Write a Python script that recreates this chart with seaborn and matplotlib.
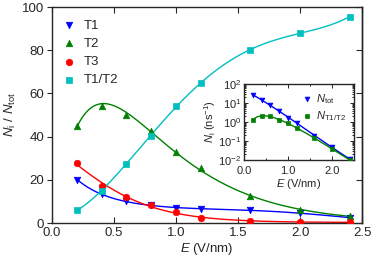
import numpy as np
import pandas as pd
import matplotlib
matplotlib.use("Agg")
import matplotlib.pyplot as plt
import seaborn as sns
from matplotlib.ticker import LogLocator, NullFormatter, MultipleLocator

# ---- data ----
E = [0.2, 0.4, 0.6, 0.8, 1.0, 1.2, 1.6, 2.0, 2.4]
T1 = [20.0, 13.5, 10.0, 8.2, 7.0, 6.5, 6.0, 4.5, 2.5]
T2 = [45.0, 54.0, 50.0, 42.5, 33.0, 25.5, 12.5, 6.0, 3.2]
T3 = [28.0, 17.0, 12.2, 8.3, 5.0, 2.3, 1.0, 0.5, 0.3]
T1T2 = [5.8, 15.0, 27.5, 40.5, 54.0, 65.0, 80.0, 88.0, 95.5]

N_tot = [26.0, 15.0, 8.1, 3.6, 1.7, 0.87, 0.19, 0.05, 0.011]
N_T1T2 = [1.25, 2.1, 1.95, 1.3, 0.87, 0.47, 0.14, 0.04, 0.01]

sns.set_style("ticks")
plt.rcParams['font.family'] = ['Liberation Sans', 'DejaVu Sans']
plt.rcParams['mathtext.fontset'] = 'custom'
plt.rcParams['mathtext.rm'] = 'Liberation Sans'
plt.rcParams['mathtext.it'] = 'Liberation Sans:italic'

fig = plt.figure(figsize=(3.74, 2.63), dpi=100)
ax = fig.add_axes([52/374, 1-223/263, (362-52)/374, (223-7)/263])


def fit_curve(x, y, kind):
    """Least-squares smooth curve through the measured points."""
    x = np.asarray(x, float); y = np.asarray(y, float)
    xs = np.linspace(x.min(), x.max(), 200)
    if kind == "lin4":
        return xs, np.polyval(np.polyfit(x, y, 4), xs)
    if kind == "log3":
        return xs, 10 ** np.polyval(np.polyfit(x, np.log10(y), 3), xs)
    # peaked: log y = a + b ln x + c x + d x^2
    def basis(t):
        return np.column_stack([np.ones_like(t), np.log(t), t, t ** 2])
    coef, *_ = np.linalg.lstsq(basis(x), np.log(y), rcond=None)
    return xs, np.exp(basis(xs) @ coef)


series = [
    ("T1", T1, "#0000ff", "v", "log3"),
    ("T2", T2, "#008000", "^", "peak"),
    ("T3", T3, "#ff0000", "o", "log3"),
    ("T1/T2", T1T2, "#00bfbf", "s", "lin4"),
]
for name, vals, col, mk, kind in series:
    xs, ys = fit_curve(E, vals, kind)
    sns.lineplot(x=xs, y=ys, ax=ax, color=col, lw=1.0, legend=False)
    sns.scatterplot(x=E, y=vals, ax=ax, color=col, marker=mk, s=22,
                    edgecolor=col, linewidth=0.5, label=name, zorder=3)

ax.set_xlim(0, 2.5)
ax.set_ylim(0, 100)
ax.yaxis.set_major_locator(MultipleLocator(20))
ax.set_xticks([0, 0.5, 1.0, 1.5, 2.0, 2.5])
ax.set_xticklabels(["0.0", "0.5", "1.0", "1.5", "2.0", "2.5"])
ax.tick_params(axis="x", direction="in", top=True, labelsize=9.5, length=4, width=0.8, pad=3)
ax.tick_params(axis="y", direction="out", right=False, labelsize=9.5, length=3.5, width=0.8, pad=2)
sec = ax.secondary_yaxis("right")
sec.yaxis.set_major_locator(MultipleLocator(20))
sec.tick_params(direction="in", length=4, width=0.8, labelright=False)
for s in list(ax.spines.values()) + list(sec.spines.values()):
    s.set_linewidth(1.0)
ax.set_xlabel("$E$ (V/nm)", fontsize=9.5, labelpad=1)
ax.set_ylabel("$N_\\mathrm{i}$ / $N_\\mathrm{tot}$", fontsize=9.5, labelpad=3)
ax.legend(loc="upper left", frameon=False, fontsize=9.5, handletextpad=0.5,
          labelspacing=0.45, borderaxespad=0.3, handlelength=1.2,
          bbox_to_anchor=(0.0, 0.985))

# ---- inset ----
ins = fig.add_axes([244/374, 1-160/263, (354-244)/374, (160-84)/263])
for name, vals, col, mk, kind in [("$N_\\mathrm{tot}$", N_tot, "#0000ff", "v", "log3"),
                                  ("$N_\\mathrm{T1/T2}$", N_T1T2, "#008000", "s", "peak")]:
    xs, ys = fit_curve(E, vals, kind)
    sns.lineplot(x=xs, y=ys, ax=ins, color=col, lw=1.0, legend=False)
    sns.scatterplot(x=E, y=vals, ax=ins, color=col, marker=mk, s=12,
                    edgecolor=col, linewidth=0.5, label=name, zorder=3)
ins.set_yscale("log")
ins.set_xlim(0, 2.5)
ins.set_ylim(1e-2, 1e2)
ins.set_xticks([0, 1, 2])
ins.set_xticklabels(["0.0", "1.0", "2.0"])
ins.xaxis.set_minor_locator(MultipleLocator(0.5))
ins.yaxis.set_major_locator(LogLocator(base=10, numticks=10))
ins.yaxis.set_minor_locator(LogLocator(base=10, subs=np.arange(2, 10), numticks=20))
ins.yaxis.set_minor_formatter(NullFormatter())
ins.tick_params(which="both", direction="in", top=True, right=True, labelsize=8, width=0.7)
ins.tick_params(which="major", length=3)
ins.tick_params(axis="y", which="major", pad=2)
ins.tick_params(axis="x", which="major", pad=4)
ins.tick_params(which="minor", length=1.5)
for s in ins.spines.values():
    s.set_linewidth(1.0)
ins.set_xlabel("$E$ (V/nm)", fontsize=8, labelpad=1)
ins.set_ylabel("$N_\\mathrm{i}$ (ns$^{-1}$)", fontsize=8, labelpad=0)
ins.legend(loc="upper right", frameon=False, fontsize=8, handletextpad=0.3,
           labelspacing=0.3, borderaxespad=0.3, handlelength=1.0)

fig.savefig("out.png", dpi=100)
